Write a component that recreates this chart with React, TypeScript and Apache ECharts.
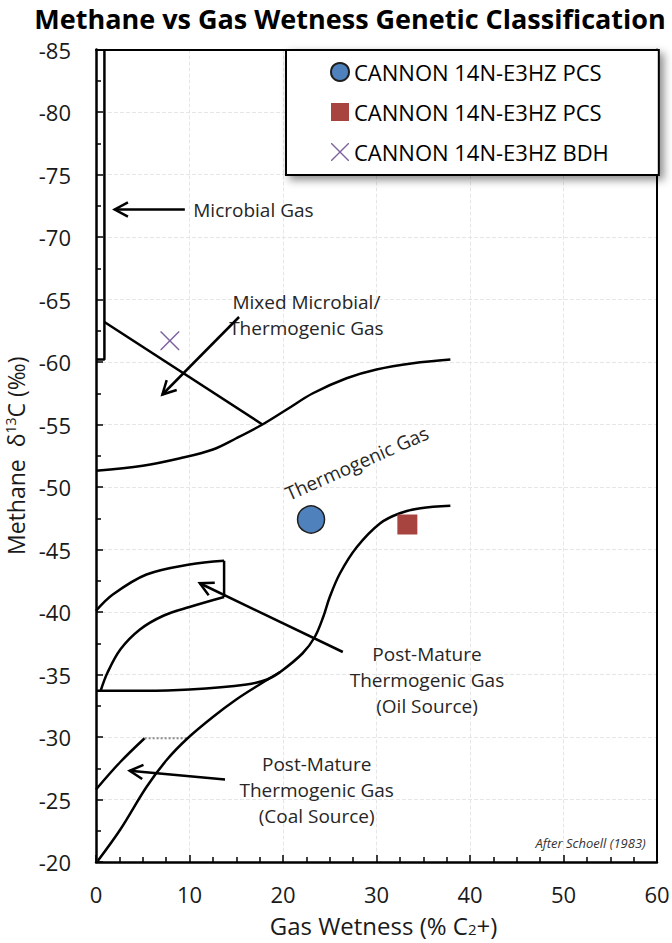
import React, { useEffect, useRef } from 'react';
import * as echarts from 'echarts';

// ---- data (x = gas wetness %, y = methane d13C permil) ----
const microbialBox = [[0.9, -85], [0.9, -60.2], [0, -60.2]];
const mixedLine = [[0.9, -63.2], [17.8, -55.0]];
const upperThermo = [[0, -51.3], [5, -51.7], [9, -52.3], [12.5, -53.0], [15, -53.9], [17.8, -55.0], [20.4, -56.2], [23.2, -57.5], [26.8, -58.7], [30, -59.4], [33.9, -59.9], [37.9, -60.2]];
const lowerThermo = [[0, -33.7], [5, -33.7], [10, -33.8], [16.1, -34.2], [18.3, -34.6], [19.7, -35.2], [22.1, -36.7], [23.4, -38.0], [24.3, -39.6], [25.0, -41.2], [26.1, -43.1], [27.9, -45.2], [30.4, -47.1], [32.5, -47.9], [34.7, -48.3], [37.9, -48.5]];
const oilUpper = [[0, -40.1], [1.8, -41.4], [5.4, -43.0], [10, -43.8], [13.7, -44.1]];
const oilRight = [[13.7, -44.1], [13.7, -41.2]];
const oilLower = [[13.7, -41.2], [10, -40.4], [7.2, -39.7], [4.7, -38.6], [2.6, -37.0], [1.2, -35.1], [0.5, -33.7]];
const coalUpper = [[0, -25.8], [2.6, -28.0], [5.2, -29.9]];
const coalDotted = [[5.2, -29.9], [9.8, -29.9]];
const coalLower = [[0.2, -20.1], [2.6, -22.6], [5.4, -26.0], [7.6, -28.2], [9.8, -29.9], [12.5, -31.6], [15, -33.0], [17.5, -34.2], [19.7, -35.2]];

const pcsCircle = [[23.0, -47.4]];
const pcsSquare = [[33.3, -47.0]];
const bdhCross = [[7.9, -61.7]];

const seriesNames = ['CANNON 14N-E3HZ PCS', 'CANNON 14N-E3HZ PCS ', 'CANNON 14N-E3HZ BDH'];
const chartTitle = 'Methane vs Gas Wetness Genetic Classification';

const annotations = [
  { lines: ['Microbial Gas'], at: [10.4, -72.2], align: 'left', rotate: 0 },
  { lines: ['Mixed Microbial/', 'Thermogenic Gas'], at: [22.5, -63.8], align: 'center', rotate: 0 },
  { lines: ['Thermogenic Gas'], at: [27.9, -51.9], align: 'center', rotate: 24 },
  { lines: ['Post-Mature', 'Thermogenic Gas', '(Oil Source)'], at: [35.4, -34.6], align: 'center', rotate: 0 },
  { lines: ['Post-Mature', 'Thermogenic Gas', '(Coal Source)'], at: [23.6, -25.8], align: 'center', rotate: 0 },
];

const arrows = [
  { from: [9.5, -72.2], to: [2.0, -72.2] },
  { from: [15.3, -63.6], to: [7.1, -57.4] },
  { from: [26.4, -36.8], to: [11.1, -42.3] },
  { from: [13.8, -26.6], to: [3.6, -27.3] },
];

const sourceNote = { text: 'After Schoell (1983)', at: [58.8, -21.5] };

const FONT = 'Open Sans';
const crossPath = 'path://M0,0 L1.1,0 L10,8.9 L18.9,0 L20,0 L20,1.1 L11.1,10 L20,18.9 L20,20 L18.9,20 L10,11.1 L1.1,20 L0,20 L0,18.9 L8.9,10 L0,1.1 Z';

export default function App() {
  const ref = useRef<HTMLDivElement>(null);
  useEffect(() => {
    document.body.style.margin = '0';
    const chart = echarts.init(ref.current!, undefined, { renderer: 'svg' });
    const line = (data: number[][], extra: any = {}) => ({
      type: 'line', data, smooth: 0.35, showSymbol: false, symbol: 'none', silent: true,
      lineStyle: { color: '#000', width: 2.5 }, z: 2, ...extra,
    });
    const frameAxis = {
      show: true, axisLine: { show: true, onZero: false, lineStyle: { color: '#000', width: 2 } },
      axisTick: { show: false }, axisLabel: { show: false }, splitLine: { show: false },
    };
    const option: any = {
      animation: false,
      textStyle: { fontFamily: FONT },
      grid: { left: 96, right: 15, top: 49.5, bottom: 81, containLabel: false, outerBoundsMode: 'none' },
      legend: {
        data: seriesNames, orient: 'vertical', left: 286, top: 50,
        padding: [10, 50, 11, 44], itemGap: 16, itemWidth: 18, itemHeight: 18,
        backgroundColor: '#fff', borderColor: '#000', borderWidth: 2,
        shadowBlur: 8, shadowColor: 'rgba(0,0,0,0.45)', shadowOffsetX: 4, shadowOffsetY: 4,
        textStyle: { fontFamily: FONT, fontSize: 22, color: '#000', lineHeight: 24 },
        selectedMode: false,
      },
      xAxis: [{
        type: 'value', min: 0, max: 60, interval: 10, position: 'bottom',
        name: 'Gas Wetness (% C{sub|2}+)', nameLocation: 'middle', nameGap: 52,
        nameTextStyle: { fontFamily: FONT, fontSize: 24, color: '#1a1a1a', lineHeight: 22, padding: [0, 0, 0, 14], rich: { sub: { fontSize: 15, verticalAlign: 'bottom', lineHeight: 9 } } },
        axisLine: { show: true, onZero: false, lineStyle: { color: '#000', width: 2.5 } },
        axisTick: { show: true, inside: true, length: 7, lineStyle: { color: '#000', width: 1.5 } },
        minorTick: { show: true, splitNumber: 4, length: 5, lineStyle: { color: '#000', width: 1.5 } },
        axisLabel: { fontFamily: FONT, fontSize: 22, color: '#1a1a1a', margin: 22, lineHeight: 20 },
        splitLine: { show: true, lineStyle: { color: '#e6e6e6', type: 'dashed', width: 1 } },
      }, {
        type: 'value', min: 0, max: 60, interval: 10, position: 'top', ...frameAxis,
      }],
      yAxis: [{
        type: 'value', min: -85, max: -20, interval: 5, inverse: true, position: 'left',
        name: 'Methane  δ{sup|13}C (‰)', nameLocation: 'middle', nameGap: 40,
        nameTextStyle: { fontFamily: FONT, fontSize: 23, color: '#1a1a1a', lineHeight: 24, rich: { sup: { fontSize: 14, verticalAlign: 'top', lineHeight: 10 } } },
        axisLine: { show: true, onZero: false, lineStyle: { color: '#000', width: 2.5 } },
        axisTick: { show: true, inside: true, length: 7, lineStyle: { color: '#000', width: 1.5 } },
        minorTick: { show: true, splitNumber: 2, length: 5, lineStyle: { color: '#000', width: 1.5 } },
        axisLabel: { fontFamily: FONT, fontSize: 22, color: '#1a1a1a', margin: 25 },
        splitLine: { show: true, lineStyle: { color: '#e6e6e6', type: 'dashed', width: 1 } },
      }, {
        type: 'value', min: -85, max: -20, interval: 5, inverse: true, position: 'right', ...frameAxis,
      }],
      series: [
        line(microbialBox, { smooth: false }),
        line(mixedLine, { smooth: false }),
        line(upperThermo),
        line(lowerThermo),
        line(oilUpper),
        line(oilRight, { smooth: false }),
        line(oilLower),
        line(coalUpper),
        line(coalDotted, { smooth: false, lineStyle: { color: '#8c8c8c', width: 2, type: 'dotted' } }),
        line(coalLower),
        {
          name: seriesNames[0], type: 'scatter', data: pcsCircle, symbol: 'circle', symbolSize: 27, z: 5,
          itemStyle: { color: '#4f81bd', borderColor: '#1f1f1f', borderWidth: 1.5, opacity: 1 },
        },
        {
          name: seriesNames[1], type: 'scatter', data: pcsSquare, symbol: 'rect', symbolSize: 20, z: 5,
          itemStyle: { color: '#a8443f', opacity: 1 },
        },
        {
          name: seriesNames[2], type: 'scatter', data: bdhCross, symbol: crossPath, symbolSize: 19, z: 5,
          itemStyle: { color: '#7d62a0', opacity: 1 },
        },
      ],
    };
    chart.setOption(option);

    const px = (p: number[]) => chart.convertToPixel({ xAxisIndex: 0, yAxisIndex: 0 }, p) as number[];
    const graphics: any[] = [];
    graphics.push({
      type: 'text', x: 350, y: 18, z: 10,
      style: { text: chartTitle, fontFamily: FONT, fontSize: 27, fontWeight: 'bold', fill: '#000', align: 'center', verticalAlign: 'middle' },
    });
    annotations.forEach((a) => {
      const [x, y] = px(a.at);
      graphics.push({
        type: 'text', x, y, rotation: (a.rotate * Math.PI) / 180, z: 10,
        style: {
          text: a.lines.join('\n'), fontFamily: FONT, fontSize: 19, lineHeight: 26,
          fill: '#262626', align: a.align, verticalAlign: 'middle',
        },
      });
    });
    arrows.forEach((a) => {
      const [x1, y1] = px(a.from);
      const [x2, y2] = px(a.to);
      const ang = Math.atan2(y1 - y2, x1 - x2);
      const L = 15, spread = (28 * Math.PI) / 180;
      const h1 = [x2 + L * Math.cos(ang + spread), y2 + L * Math.sin(ang + spread)];
      const h2 = [x2 + L * Math.cos(ang - spread), y2 + L * Math.sin(ang - spread)];
      graphics.push({ type: 'line', z: 10, shape: { x1, y1, x2, y2 }, style: { stroke: '#000', lineWidth: 2.5 } });
      graphics.push({ type: 'polyline', z: 10, shape: { points: [h1, [x2, y2], h2] }, style: { stroke: '#000', lineWidth: 2.5, fill: null } });
    });
    {
      const [x, y] = px(sourceNote.at);
      graphics.push({
        type: 'text', x, y, z: 10,
        style: { text: sourceNote.text, fontFamily: FONT, fontSize: 13, fontStyle: 'italic', fill: '#333', align: 'right', verticalAlign: 'middle' },
      });
    }
    chart.setOption({ graphic: graphics });
    return () => chart.dispose();
  }, []);
  return <div ref={ref} style={{ width: 672, height: 943 }} />;
}
